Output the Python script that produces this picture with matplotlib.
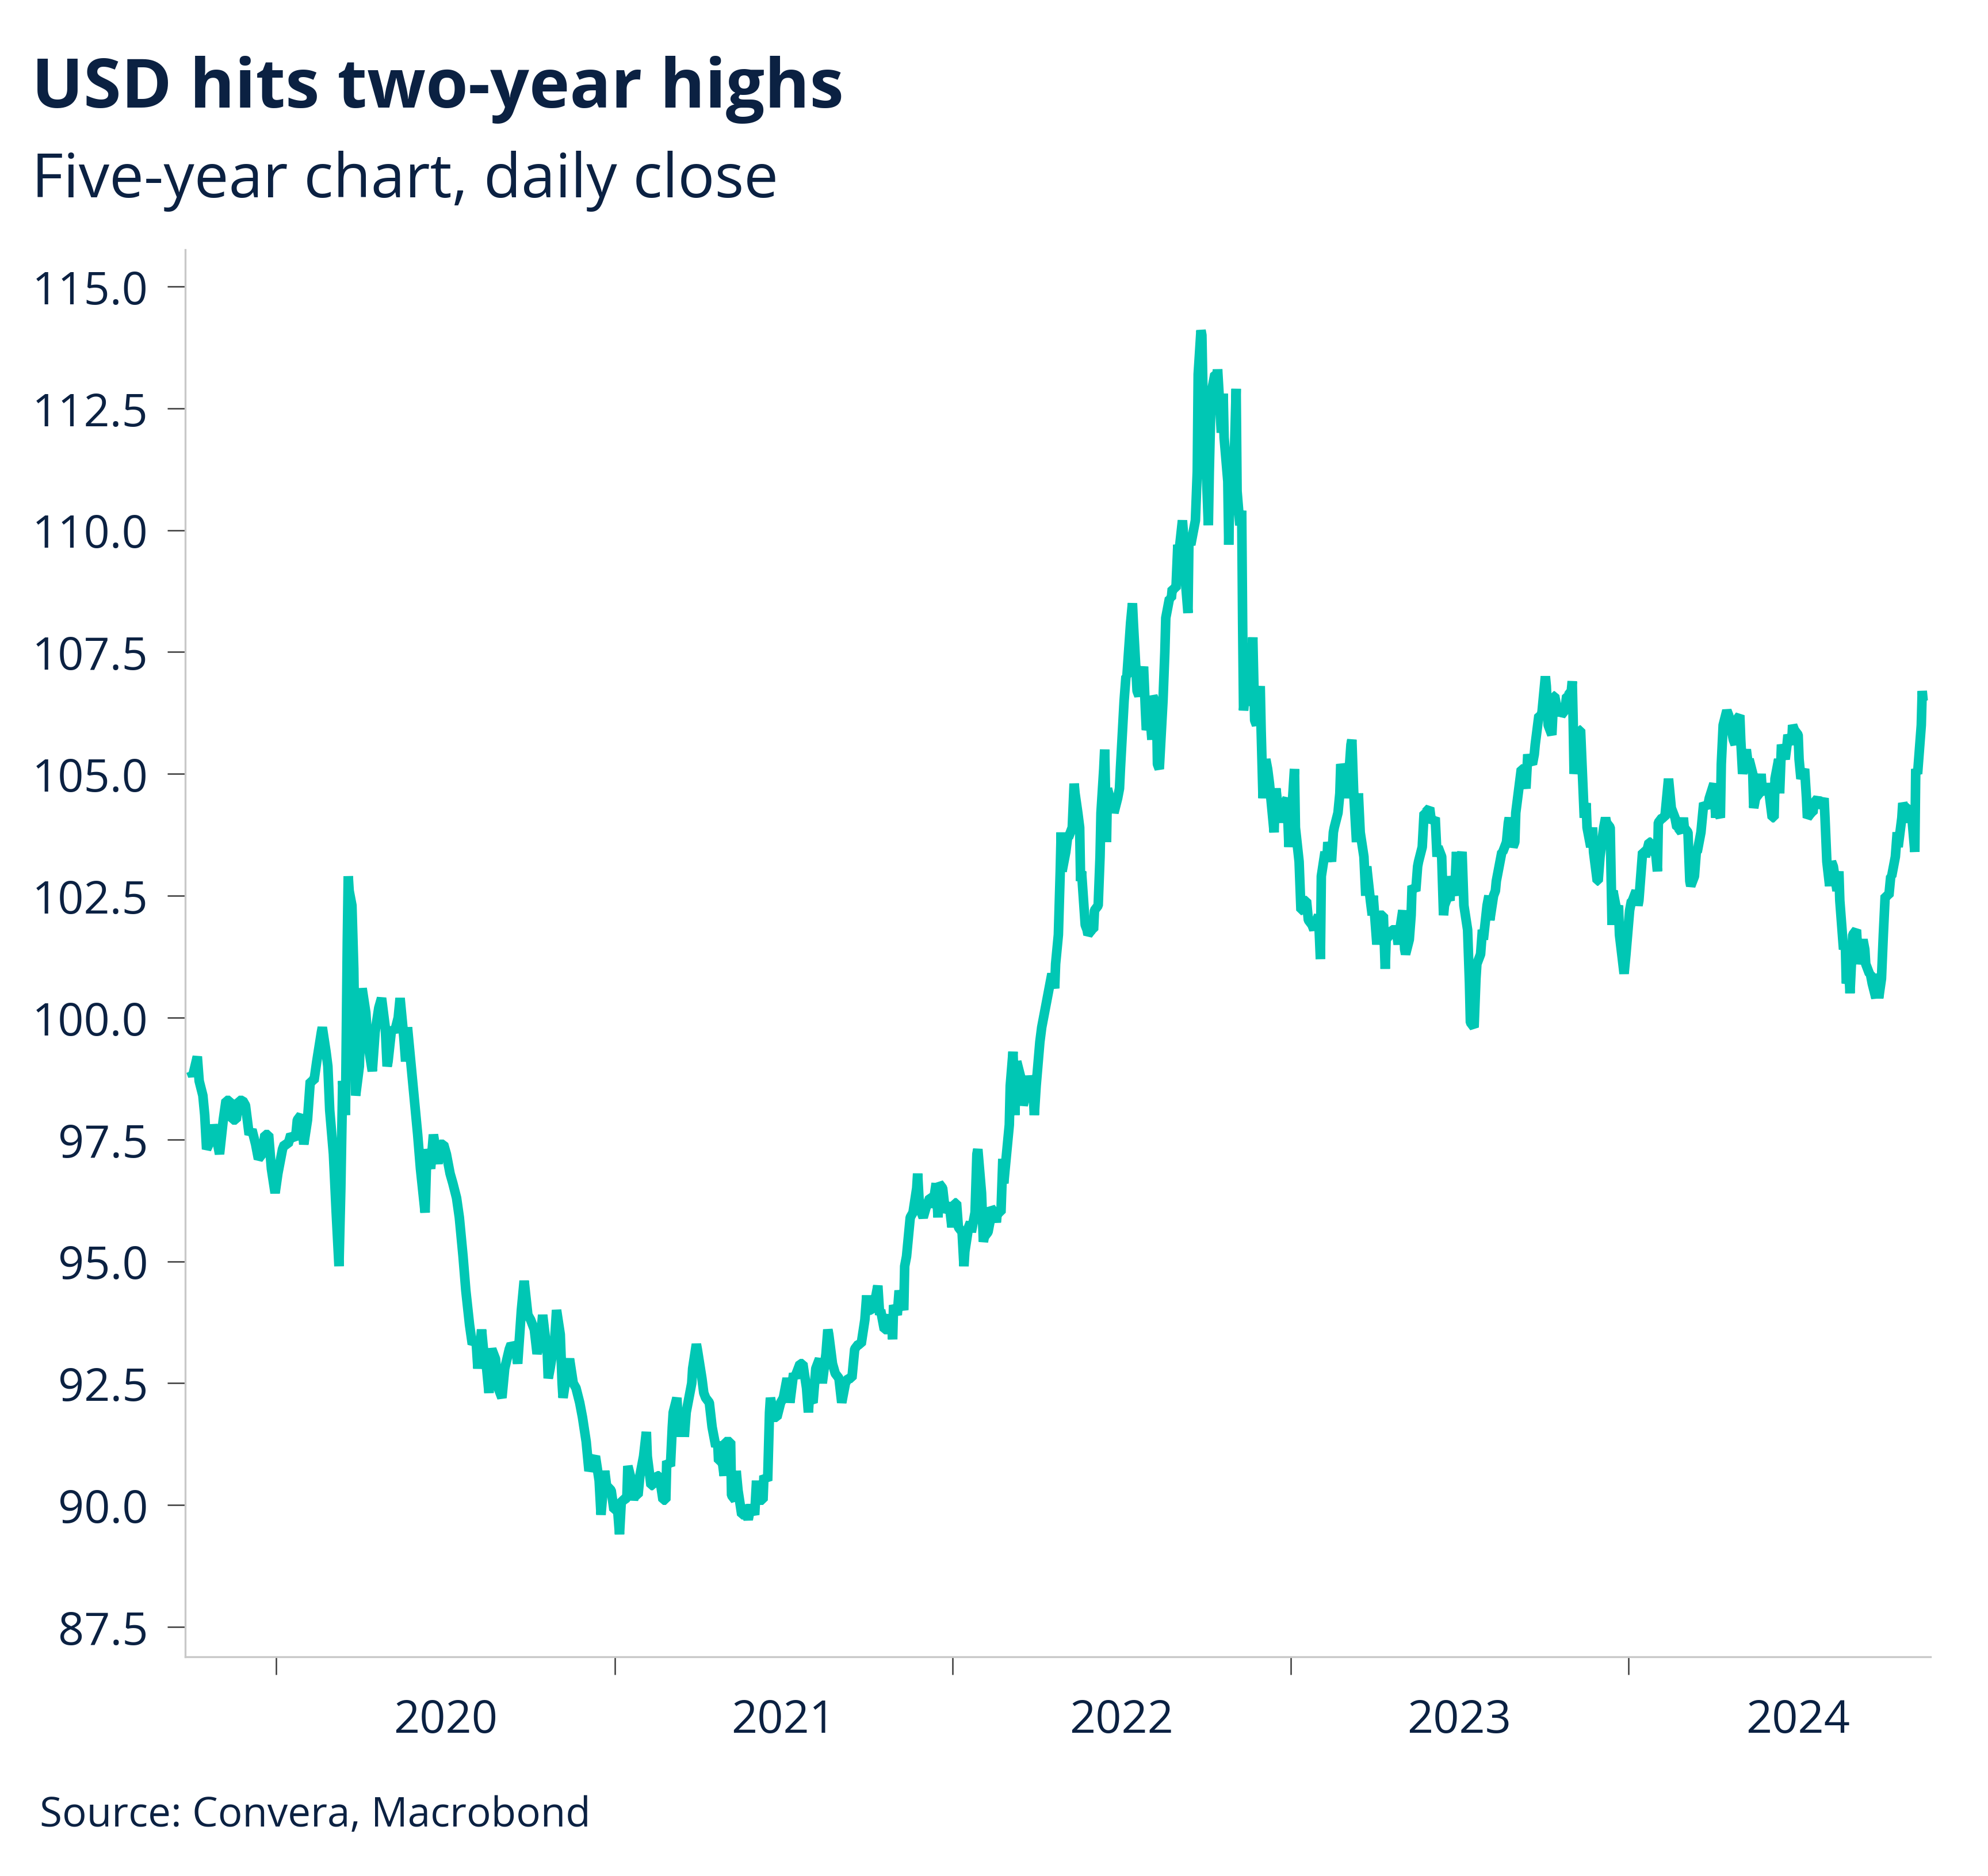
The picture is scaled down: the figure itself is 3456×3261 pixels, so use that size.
import pandas as pd
import matplotlib
matplotlib.use("Agg")
import matplotlib.pyplot as plt
import matplotlib.dates as mdates
from matplotlib.ticker import FixedLocator, FormatStrFormatter

NAVY = "#0b2142"
TEAL = "#00c7b4"

TITLE = "USD hits two-year highs"
SUBTITLE = "Five-year chart, daily close"
SOURCE = "Source: Convera, Macrobond"

# US dollar index, closes (month-day, value)
y2019 = [("10-01", 98.9), ("10-03", 98.8), ("10-08", 99.2), ("10-10", 98.7), ("10-14", 98.4),
         ("10-16", 98.0), ("10-18", 97.3), ("10-23", 97.5), ("10-25", 97.8), ("10-30", 97.4),
         ("11-01", 97.2), ("11-05", 97.9), ("11-08", 98.3), ("11-12", 98.3), ("11-15", 97.9),
         ("11-19", 97.9), ("11-22", 98.3), ("11-26", 98.3), ("11-29", 98.2), ("12-03", 97.6),
         ("12-06", 97.7), ("12-10", 97.4), ("12-13", 97.1), ("12-17", 97.2), ("12-20", 97.6),
         ("12-24", 97.6), ("12-27", 96.9), ("12-31", 96.4)]

y2020 = [("01-03", 96.8), ("01-08", 97.3), ("01-10", 97.4), ("01-14", 97.4), ("01-17", 97.6),
         ("01-22", 97.5), ("01-24", 97.9), ("01-28", 98.0), ("01-31", 97.4), ("02-04", 97.9),
         ("02-07", 98.7), ("02-11", 98.7), ("02-14", 99.1), ("02-19", 99.7), ("02-20", 99.8),
         ("02-24", 99.3), ("02-26", 99.0), ("02-28", 98.1), ("03-03", 97.2), ("03-06", 96.0),
         ("03-09", 94.9), ("03-11", 96.5), ("03-13", 98.7), ("03-16", 98.0), ("03-18", 101.6),
         ("03-19", 102.9), ("03-20", 102.6), ("03-23", 102.3), ("03-25", 101.0), ("03-27", 98.4),
         ("03-31", 99.0), ("04-02", 100.2), ("04-03", 100.6), ("04-07", 100.1), ("04-09", 99.5),
         ("04-14", 98.9), ("04-17", 99.7), ("04-21", 100.2), ("04-24", 100.4), ("04-28", 99.8),
         ("04-30", 99.0), ("05-01", 99.1), ("05-05", 99.8), ("05-08", 99.7), ("05-12", 100.0),
         ("05-14", 100.4), ("05-18", 99.6), ("05-20", 99.1), ("05-22", 99.8), ("05-26", 99.0),
         ("05-29", 98.4), ("06-02", 97.6), ("06-05", 96.9), ("06-10", 96.0), ("06-12", 97.3),
         ("06-16", 96.9), ("06-19", 97.6), ("06-24", 97.0), ("06-26", 97.4), ("06-30", 97.4),
         ("07-03", 97.2), ("07-07", 96.8), ("07-10", 96.6), ("07-14", 96.3), ("07-17", 95.9),
         ("07-21", 95.1), ("07-24", 94.4), ("07-28", 93.7), ("07-31", 93.3), ("08-04", 93.4),
         ("08-06", 92.8), ("08-10", 93.6), ("08-12", 93.2), ("08-14", 93.1), ("08-18", 92.3),
         ("08-20", 93.1), ("08-21", 93.2), ("08-25", 93.0), ("08-28", 92.4), ("09-01", 92.2),
         ("09-04", 92.8), ("09-09", 93.2), ("09-11", 93.3), ("09-16", 93.2), ("09-18", 92.9),
         ("09-22", 94.0), ("09-25", 94.6), ("09-29", 93.9), ("10-02", 93.8), ("10-06", 93.6),
         ("10-09", 93.1), ("10-13", 93.5), ("10-15", 93.9), ("10-20", 93.1), ("10-21", 92.6),
         ("10-23", 92.8), ("10-28", 93.4), ("10-30", 94.0), ("11-03", 93.5), ("11-05", 92.5),
         ("11-06", 92.2), ("11-10", 92.7), ("11-13", 93.0), ("11-17", 92.5), ("11-20", 92.4),
         ("11-24", 92.1), ("11-27", 91.8), ("12-01", 91.3), ("12-04", 90.7), ("12-08", 90.9),
         ("12-11", 91.0), ("12-15", 90.5), ("12-17", 89.8), ("12-21", 90.7), ("12-23", 90.4),
         ("12-28", 90.3), ("12-31", 89.9)]

y2021 = [("01-04", 89.9), ("01-06", 89.4), ("01-08", 90.1), ("01-12", 90.1), ("01-14", 90.2),
         ("01-15", 90.8), ("01-19", 90.5), ("01-21", 90.1), ("01-22", 90.2), ("01-26", 90.2),
         ("01-28", 90.6), ("02-01", 91.0), ("02-04", 91.5), ("02-05", 91.0), ("02-09", 90.4),
         ("02-11", 90.4), ("02-12", 90.5), ("02-16", 90.6), ("02-18", 90.6), ("02-22", 90.1),
         ("02-25", 90.1), ("02-26", 90.9), ("03-02", 90.8), ("03-04", 91.6), ("03-05", 91.9),
         ("03-09", 92.2), ("03-11", 91.4), ("03-12", 91.7), ("03-16", 91.9), ("03-17", 91.4),
         ("03-19", 91.9), ("03-23", 92.3), ("03-25", 92.5), ("03-26", 92.8), ("03-30", 93.3),
         ("03-31", 93.2), ("04-05", 92.6), ("04-07", 92.3), ("04-09", 92.2), ("04-13", 92.1),
         ("04-16", 91.6), ("04-20", 91.2), ("04-22", 91.3), ("04-23", 90.9), ("04-27", 90.9),
         ("04-29", 90.6), ("04-30", 91.3), ("05-04", 91.3), ("05-06", 91.3), ("05-07", 90.2),
         ("05-11", 90.1), ("05-12", 90.7), ("05-14", 90.3), ("05-18", 89.8), ("05-20", 89.8),
         ("05-21", 90.0), ("05-25", 89.7), ("05-27", 89.9), ("05-28", 90.0), ("06-01", 89.8),
         ("06-03", 90.5), ("06-04", 90.1), ("06-08", 90.1), ("06-10", 90.1), ("06-11", 90.6),
         ("06-15", 90.5), ("06-16", 91.2), ("06-17", 91.9), ("06-18", 92.2), ("06-22", 91.8),
         ("06-25", 91.8), ("06-29", 92.1), ("07-02", 92.2), ("07-06", 92.6), ("07-08", 92.4),
         ("07-09", 92.1), ("07-13", 92.7), ("07-15", 92.6), ("07-16", 92.7), ("07-20", 92.9),
         ("07-23", 92.9), ("07-27", 92.4), ("07-29", 91.9), ("07-30", 92.2), ("08-03", 92.1),
         ("08-06", 92.8), ("08-10", 93.0), ("08-13", 92.5), ("08-17", 93.1), ("08-19", 93.6),
         ("08-20", 93.5), ("08-24", 92.9), ("08-27", 92.7), ("08-31", 92.6), ("09-03", 92.1),
         ("09-07", 92.5), ("09-10", 92.6), ("09-14", 92.6), ("09-17", 93.2), ("09-21", 93.3),
         ("09-24", 93.3), ("09-28", 93.8), ("09-30", 94.3), ("10-01", 94.0), ("10-05", 94.0),
         ("10-08", 94.1), ("10-12", 94.5), ("10-14", 93.9), ("10-15", 94.0), ("10-19", 93.6),
         ("10-22", 93.6), ("10-26", 93.9), ("10-28", 93.4), ("10-29", 94.1), ("11-02", 93.9),
         ("11-04", 94.4), ("11-05", 94.3), ("11-09", 94.0), ("11-10", 94.9), ("11-12", 95.1),
         ("11-16", 95.9), ("11-19", 96.0), ("11-23", 96.5), ("11-24", 96.8), ("11-26", 96.1),
         ("11-30", 95.9), ("12-03", 96.1), ("12-07", 96.3), ("12-09", 96.3), ("12-10", 96.1),
         ("12-14", 96.6), ("12-16", 95.9), ("12-17", 96.6), ("12-21", 96.5), ("12-24", 96.0),
         ("12-28", 96.2), ("12-31", 95.7)]

y2022 = [("01-03", 96.2), ("01-05", 96.2), ("01-07", 95.7), ("01-11", 95.6), ("01-13", 94.9),
         ("01-14", 95.2), ("01-18", 95.7), ("01-20", 95.8), ("01-21", 95.6), ("01-25", 96.0),
         ("01-27", 97.2), ("01-28", 97.3), ("02-01", 96.4), ("02-03", 95.4), ("02-04", 95.5),
         ("02-08", 95.6), ("02-10", 95.8), ("02-11", 96.1), ("02-15", 96.0), ("02-17", 95.8),
         ("02-18", 96.0), ("02-22", 96.0), ("02-24", 97.1), ("02-25", 96.6), ("03-01", 97.4),
         ("03-03", 97.8), ("03-04", 98.6), ("03-07", 99.3), ("03-09", 98.0), ("03-11", 99.1),
         ("03-15", 98.8), ("03-17", 98.4), ("03-18", 98.2), ("03-22", 98.5), ("03-24", 98.8),
         ("03-29", 98.4), ("03-30", 98.0), ("04-01", 98.6), ("04-05", 99.5), ("04-07", 99.8),
         ("04-12", 100.3), ("04-14", 100.5), ("04-18", 100.9), ("04-21", 100.6), ("04-22", 101.1),
         ("04-25", 101.7), ("04-27", 103.0), ("04-28", 103.8), ("04-29", 103.0), ("05-03", 103.4),
         ("05-05", 103.7), ("05-06", 103.7), ("05-10", 103.9), ("05-12", 104.8), ("05-13", 104.6),
         ("05-16", 104.2), ("05-18", 103.9), ("05-19", 102.8), ("05-20", 103.0), ("05-24", 101.9),
         ("05-26", 101.8), ("05-27", 101.7), ("05-31", 101.8), ("06-02", 101.8), ("06-03", 102.2),
         ("06-07", 102.3), ("06-09", 103.3), ("06-10", 104.2), ("06-13", 105.1), ("06-14", 105.5),
         ("06-16", 103.6), ("06-17", 104.7), ("06-21", 104.4), ("06-23", 104.4), ("06-24", 104.2),
         ("06-28", 104.5), ("06-30", 104.7), ("07-01", 105.1), ("07-05", 106.5), ("07-07", 107.0),
         ("07-08", 107.0), ("07-12", 108.1), ("07-14", 108.5), ("07-15", 108.1), ("07-19", 106.7),
         ("07-21", 106.6), ("07-22", 106.7), ("07-26", 107.2), ("07-28", 106.3), ("07-29", 105.9),
         ("08-02", 106.2), ("08-04", 105.7), ("08-05", 106.6), ("08-09", 106.4), ("08-10", 105.2),
         ("08-12", 105.1), ("08-16", 106.5), ("08-18", 107.5), ("08-19", 108.2), ("08-23", 108.6),
         ("08-25", 108.6), ("08-26", 108.8), ("08-30", 108.8), ("09-01", 109.7), ("09-02", 109.5),
         ("09-06", 110.2), ("09-08", 109.7), ("09-09", 109.0), ("09-12", 108.3), ("09-13", 109.8),
         ("09-15", 109.7), ("09-16", 109.8), ("09-20", 110.2), ("09-22", 111.2), ("09-23", 113.2),
         ("09-26", 114.1), ("09-27", 114.0), ("09-28", 113.0), ("09-29", 112.2), ("09-30", 112.1),
         ("10-04", 110.1), ("10-05", 111.2), ("10-07", 112.8), ("10-11", 113.2), ("10-12", 113.2),
         ("10-13", 112.5), ("10-14", 113.3), ("10-18", 112.0), ("10-20", 112.8), ("10-21", 111.9),
         ("10-25", 111.0), ("10-26", 109.7), ("10-27", 110.6), ("10-28", 110.7), ("11-01", 111.5),
         ("11-03", 112.9), ("11-04", 110.8), ("11-07", 110.1), ("11-09", 110.4), ("11-10", 108.1),
         ("11-11", 106.3), ("11-14", 106.9), ("11-15", 106.4), ("11-17", 106.7), ("11-18", 106.9),
         ("11-21", 107.8), ("11-23", 106.1), ("11-25", 106.0), ("11-29", 106.8), ("11-30", 105.9),
         ("12-02", 104.5), ("12-05", 105.3), ("12-07", 105.1), ("12-09", 104.8), ("12-13", 104.0),
         ("12-14", 103.8), ("12-15", 104.5), ("12-16", 104.7), ("12-20", 104.0), ("12-22", 104.4),
         ("12-23", 104.3), ("12-28", 104.5), ("12-30", 103.5)]

y2023 = [("01-03", 104.5), ("01-05", 105.1), ("01-06", 103.9), ("01-10", 103.2), ("01-12", 102.2),
         ("01-13", 102.2), ("01-17", 102.4), ("01-18", 102.4), ("01-20", 102.0), ("01-24", 101.9),
         ("01-26", 101.8), ("01-27", 101.9), ("01-31", 102.1), ("02-02", 101.2), ("02-03", 102.9),
         ("02-07", 103.4), ("02-09", 103.2), ("02-10", 103.6), ("02-14", 103.2), ("02-16", 103.8),
         ("02-17", 103.9), ("02-21", 104.2), ("02-23", 104.6), ("02-24", 105.2), ("02-28", 104.9),
         ("03-02", 104.9), ("03-03", 104.5), ("03-07", 105.6), ("03-08", 105.7), ("03-10", 104.6),
         ("03-13", 103.6), ("03-15", 104.6), ("03-17", 103.8), ("03-21", 103.3), ("03-23", 102.5),
         ("03-24", 103.1), ("03-28", 102.4), ("03-30", 102.1), ("03-31", 102.5), ("04-04", 101.5),
         ("04-06", 101.9), ("04-07", 102.1), ("04-11", 102.1), ("04-13", 101.0), ("04-14", 101.6),
         ("04-18", 101.7), ("04-20", 101.8), ("04-21", 101.8), ("04-25", 101.8), ("04-27", 101.5),
         ("04-28", 101.7), ("05-02", 102.2), ("05-04", 101.4), ("05-05", 101.3), ("05-09", 101.6),
         ("05-11", 102.1), ("05-12", 102.7), ("05-16", 102.6), ("05-18", 103.1), ("05-19", 103.2),
         ("05-23", 103.5), ("05-25", 104.2), ("05-26", 104.2), ("05-31", 104.3), ("06-02", 104.0),
         ("06-06", 104.1), ("06-08", 103.3), ("06-09", 103.5), ("06-13", 103.3), ("06-15", 102.1),
         ("06-16", 102.3), ("06-20", 102.5), ("06-22", 102.4), ("06-23", 102.9), ("06-27", 102.5),
         ("06-29", 103.4), ("06-30", 102.9), ("07-05", 103.4), ("07-07", 102.3), ("07-11", 101.8),
         ("07-13", 100.7), ("07-14", 99.9), ("07-18", 99.8), ("07-20", 100.8), ("07-21", 101.1),
         ("07-25", 101.3), ("07-27", 101.8), ("07-28", 101.6), ("08-01", 102.3), ("08-03", 102.5),
         ("08-04", 102.0), ("08-08", 102.5), ("08-10", 102.6), ("08-11", 102.8), ("08-15", 103.2),
         ("08-17", 103.4), ("08-18", 103.4), ("08-22", 103.6), ("08-24", 104.0), ("08-25", 104.1),
         ("08-29", 103.5), ("08-31", 103.6), ("09-01", 104.2), ("09-05", 104.8), ("09-07", 105.1),
         ("09-08", 105.1), ("09-12", 104.7), ("09-14", 105.4), ("09-15", 105.3), ("09-19", 105.2),
         ("09-21", 105.4), ("09-22", 105.6), ("09-26", 106.2), ("09-28", 106.2), ("09-29", 106.2),
         ("10-03", 107.0), ("10-04", 106.8), ("10-06", 106.0), ("10-10", 105.8), ("10-12", 106.6),
         ("10-13", 106.6), ("10-17", 106.2), ("10-19", 106.3), ("10-20", 106.2), ("10-24", 106.3),
         ("10-26", 106.6), ("10-27", 106.6), ("10-31", 106.7), ("11-01", 106.9), ("11-02", 106.1),
         ("11-03", 105.0), ("11-07", 105.6), ("11-09", 105.9), ("11-10", 105.9), ("11-14", 104.1),
         ("11-16", 104.4), ("11-17", 103.9), ("11-21", 103.5), ("11-23", 103.9), ("11-24", 103.4),
         ("11-28", 102.8), ("11-29", 102.8), ("12-01", 103.3), ("12-05", 103.9), ("12-07", 104.1),
         ("12-08", 104.0), ("12-12", 103.9), ("12-13", 102.9), ("12-14", 101.9), ("12-15", 102.6),
         ("12-19", 102.2), ("12-21", 102.3), ("12-22", 101.7), ("12-27", 100.9), ("12-29", 101.3)]

y2024 = [("01-02", 102.2), ("01-04", 102.4), ("01-05", 102.4), ("01-09", 102.6), ("01-11", 102.3),
         ("01-12", 102.4), ("01-16", 103.4), ("01-18", 103.4), ("01-19", 103.3), ("01-23", 103.6),
         ("01-25", 103.6), ("01-26", 103.4), ("01-30", 103.4), ("02-01", 103.0), ("02-02", 104.0),
         ("02-06", 104.1), ("02-08", 104.1), ("02-09", 104.1), ("02-13", 104.9), ("02-14", 104.7),
         ("02-16", 104.3), ("02-20", 104.1), ("02-22", 103.9), ("02-23", 103.9), ("02-27", 103.8),
         ("02-29", 104.1), ("03-01", 103.9), ("03-05", 103.8), ("03-07", 102.8), ("03-08", 102.7),
         ("03-12", 102.9), ("03-14", 103.4), ("03-15", 103.4), ("03-19", 103.8), ("03-21", 104.2),
         ("03-22", 104.4), ("03-26", 104.3), ("03-28", 104.5), ("04-02", 104.8), ("04-04", 104.1),
         ("04-05", 104.3), ("04-09", 104.1), ("04-10", 105.2), ("04-12", 106.0), ("04-16", 106.3),
         ("04-18", 106.2), ("04-19", 106.1), ("04-23", 105.7), ("04-25", 105.6), ("04-26", 106.1),
         ("04-30", 106.2), ("05-01", 105.7), ("05-03", 105.0), ("05-07", 105.5), ("05-09", 105.2),
         ("05-10", 105.3), ("05-14", 105.0), ("05-15", 104.3), ("05-17", 104.5), ("05-21", 104.6),
         ("05-23", 105.0), ("05-24", 104.7), ("05-28", 104.6), ("05-30", 104.8), ("05-31", 104.7),
         ("06-04", 104.1), ("06-06", 104.1), ("06-07", 104.9), ("06-11", 105.3), ("06-12", 104.6),
         ("06-14", 105.6), ("06-18", 105.3), ("06-20", 105.6), ("06-21", 105.8), ("06-25", 105.6),
         ("06-26", 106.0), ("06-28", 105.9), ("07-02", 105.8), ("07-03", 105.3), ("07-05", 104.9),
         ("07-09", 105.1), ("07-11", 104.5), ("07-12", 104.1), ("07-16", 104.2), ("07-18", 104.2),
         ("07-19", 104.4), ("07-23", 104.5), ("07-25", 104.4), ("07-26", 104.3), ("07-30", 104.5),
         ("07-31", 104.1), ("08-02", 103.2), ("08-05", 102.7), ("08-07", 103.2), ("08-09", 103.1),
         ("08-13", 102.6), ("08-15", 103.0), ("08-16", 102.4), ("08-20", 101.4), ("08-22", 101.5),
         ("08-23", 100.7), ("08-26", 100.9), ("08-27", 100.5), ("08-30", 101.7), ("09-03", 101.8),
         ("09-05", 101.1), ("09-06", 101.2), ("09-10", 101.6), ("09-12", 101.4), ("09-13", 101.1),
         ("09-17", 100.9), ("09-18", 100.9), ("09-20", 100.7), ("09-24", 100.4), ("09-25", 100.9),
         ("09-27", 100.4), ("09-30", 100.8), ("10-02", 101.7), ("10-04", 102.5), ("10-08", 102.5),
         ("10-10", 102.9), ("10-11", 102.9), ("10-15", 103.3), ("10-17", 103.8), ("10-18", 103.5),
         ("10-22", 104.1), ("10-23", 104.4), ("10-25", 104.3), ("10-29", 104.3), ("10-31", 104.0),
         ("11-01", 104.3), ("11-05", 103.4), ("11-06", 105.1), ("11-08", 105.0), ("11-12", 106.0),
         ("11-13", 106.7), ("11-14", 106.5)]

YEAR_TICKS = ["2020-01-01", "2021-01-01", "2022-01-01", "2023-01-01", "2024-01-01"]
YEAR_LABELS = ["2020", "2021", "2022", "2023", "2024"]
Y_TICKS = [87.5, 90.0, 92.5, 95.0, 97.5, 100.0, 102.5, 105.0, 107.5, 110.0, 112.5, 115.0]

rows = []
for year, pairs in [(2019, y2019), (2020, y2020), (2021, y2021),
                    (2022, y2022), (2023, y2023), (2024, y2024)]:
    for md, v in pairs:
        rows.append((pd.Timestamp(f"{year}-{md}"), v))
df = pd.DataFrame(rows, columns=["date", "usd"])

plt.rcParams["font.family"] = ["Open Sans", "DejaVu Sans"]

fig = plt.figure(figsize=(11.52, 10.873), dpi=300)
ax = fig.add_axes([0.0932, 0.1168, 0.8779, 0.7499])

ax.plot(df["date"], df["usd"], color=TEAL, lw=4.0,
        solid_joinstyle="bevel", solid_capstyle="butt")

ax.set_xlim(pd.Timestamp("2019-09-25"), pd.Timestamp("2024-11-22"))
ax.set_ylim(86.886, 115.755)

# y axis
ax.yaxis.set_major_locator(FixedLocator(Y_TICKS))
ax.yaxis.set_major_formatter(FormatStrFormatter("%.1f"))
ax.tick_params(axis="y", direction="out", length=7.4, width=0.6, color="#3a3a3a",
               labelcolor=NAVY, labelsize=19, pad=8)

# x axis: ticks at year starts, labels mid-year
ax.xaxis.set_major_locator(FixedLocator(mdates.date2num(pd.to_datetime(YEAR_TICKS))))
ax.xaxis.set_major_formatter(plt.NullFormatter())
mid = [pd.Timestamp(f"{y}-07-02") for y in YEAR_LABELS]
ax.xaxis.set_minor_locator(FixedLocator(mdates.date2num(mid)))
ax.xaxis.set_minor_formatter(plt.FixedFormatter(YEAR_LABELS))
ax.tick_params(axis="x", which="major", direction="out", length=7.4, width=0.6, color="#3a3a3a")
ax.tick_params(axis="x", which="minor", length=0, labelcolor=NAVY, labelsize=19, pad=17)

for s in ["top", "right"]:
    ax.spines[s].set_visible(False)
for s in ["left", "bottom"]:
    ax.spines[s].set_color("#c8c8c8")
    ax.spines[s].set_linewidth(0.8)

fig.text(0.016, 0.9427, TITLE, fontsize=28.6, fontweight="bold", color=NAVY, va="baseline")
fig.text(0.016, 0.8948, SUBTITLE, fontsize=25.6, color=NAVY, va="baseline")
fig.text(0.020, 0.0267, SOURCE, fontsize=17, color=NAVY, va="baseline")

fig.savefig("out.png", dpi=300)
